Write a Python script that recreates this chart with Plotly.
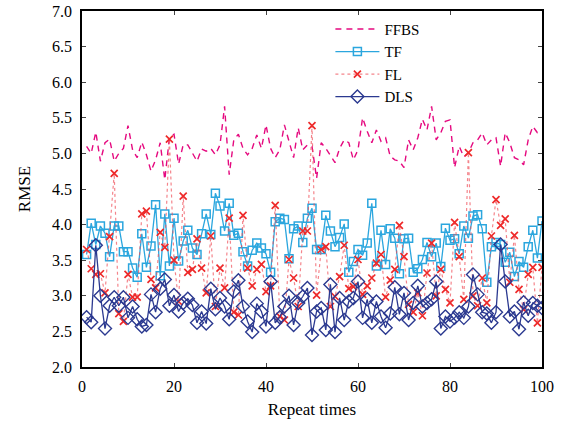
import plotly.graph_objects as go

x = list(range(1, 101))

ffbs = [5.10, 5.00, 5.30, 4.89, 5.15, 5.20, 4.89, 5.00, 5.07, 5.39,
        5.05, 4.94, 5.16, 4.98, 4.75, 4.91, 5.15, 4.63, 5.22, 5.27,
        4.85, 5.12, 5.12, 5.00, 4.89, 5.06, 5.03, 5.07, 4.98, 5.12,
        5.66, 4.70, 5.19, 5.27, 5.07, 4.98, 5.07, 5.26, 5.07, 5.40,
        5.07, 4.94, 5.05, 5.40, 5.15, 4.94, 5.36, 5.05, 5.12, 5.10,
        4.65, 5.15, 5.07, 4.96, 4.87, 5.07, 5.19, 5.15, 4.91, 5.05,
        5.50, 5.31, 5.15, 5.33, 5.17, 5.22, 4.96, 4.91, 4.89, 4.80,
        5.19, 5.05, 5.22, 5.48, 5.33, 5.66, 5.19, 5.29, 5.45, 5.47,
        4.80, 5.10, 4.95, 5.01, 5.15, 5.19, 5.29, 5.12, 5.19, 5.22,
        4.82, 5.29, 5.15, 4.94, 4.91, 4.84, 5.19, 5.38, 5.29, 5.29]

tf = [3.58, 4.02, 3.72, 3.98, 3.88, 3.55, 3.98, 3.98, 3.62, 3.62,
      3.39, 3.26, 3.87, 3.40, 3.70, 4.28, 3.28, 4.15, 3.42, 4.09,
      3.49, 3.77, 3.92, 3.67, 3.58, 3.87, 4.15, 3.86, 4.44, 4.26,
      3.91, 4.30, 3.85, 3.88, 3.62, 3.42, 3.64, 3.74, 3.67, 3.59,
      3.33, 4.04, 4.09, 4.07, 3.52, 3.94, 3.98, 3.75, 4.09, 4.23,
      3.65, 3.65, 4.13, 3.91, 3.69, 3.82, 4.01, 3.33, 3.48, 3.65,
      3.57, 3.74, 4.30, 3.42, 3.92, 3.44, 3.94, 3.81, 3.31, 3.80,
      3.81, 3.33, 3.38, 3.51, 3.75, 3.55, 3.74, 3.41, 3.95, 3.78,
      3.80, 3.59, 3.98, 3.81, 4.12, 4.14, 3.94, 3.19, 3.69, 3.75,
      3.72, 3.47, 3.61, 3.27, 3.48, 3.40, 3.69, 3.92, 3.53, 4.05]

fl = [3.65, 3.38, 3.30, 3.31, 3.04, 3.83, 4.72, 2.75, 2.64, 3.30,
      2.98, 2.98, 4.15, 4.19, 3.23, 3.11, 3.89, 3.68, 5.20, 3.50,
      2.92, 4.40, 3.33, 3.37, 3.80, 3.39, 3.04, 3.84, 2.85, 3.39,
      3.11, 4.09, 2.77, 2.73, 4.13, 3.39, 3.14, 3.37, 3.44, 3.06,
      3.14, 4.27, 2.71, 2.66, 3.51, 3.25, 2.85, 3.91, 3.91, 5.39,
      3.01, 3.65, 3.69, 2.85, 2.99, 3.27, 3.71, 3.10, 3.13, 3.51,
      3.02, 3.14, 3.25, 3.46, 3.58, 2.98, 3.22, 3.37, 3.99, 3.55,
      2.88, 2.77, 3.04, 2.72, 3.32, 3.74, 3.00, 3.37, 3.09, 2.90,
      4.03, 3.55, 2.95, 5.01, 3.00, 2.86, 3.25, 2.90, 3.84, 4.35,
      3.99, 4.08, 3.19, 3.85, 3.09, 2.81, 3.30, 3.40, 2.62, 3.40]

dls = [2.70, 2.63, 3.71, 3.00, 2.54, 2.86, 2.98, 2.86, 2.98, 2.69,
       2.85, 2.67, 2.57, 2.59, 3.02, 2.77, 3.10, 3.23, 2.86, 3.01,
       2.78, 2.90, 2.96, 2.87, 2.62, 2.78, 2.61, 3.10, 2.81, 2.97,
       2.85, 2.67, 3.06, 3.22, 2.85, 2.64, 2.49, 2.89, 2.78, 2.57,
       3.20, 2.62, 2.70, 2.85, 3.00, 2.59, 2.90, 2.99, 3.11, 2.45,
       2.78, 2.83, 2.52, 3.16, 2.49, 2.97, 2.66, 2.92, 2.97, 3.20,
       2.69, 2.95, 2.62, 2.92, 2.71, 2.55, 2.75, 3.12, 2.74, 3.04,
       2.66, 2.90, 3.14, 2.85, 2.90, 2.95, 3.20, 2.54, 2.71, 2.64,
       2.69, 2.77, 2.69, 2.85, 3.30, 3.02, 2.77, 2.75, 2.62, 2.77,
       3.72, 3.20, 2.71, 2.78, 2.53, 2.91, 2.72, 2.90, 2.86, 2.83]

x_ticks = [0, 20, 40, 60, 80, 100]
y_ticks = [2.0, 2.5, 3.0, 3.5, 4.0, 4.5, 5.0, 5.5, 6.0, 6.5, 7.0]

FONT = "Liberation Serif, Times New Roman, serif"

fig = go.Figure()
fig.add_trace(go.Scatter(x=x, y=ffbs, name="FFBS", mode="lines",
                         line=dict(color="#e5097f", width=1.4, dash="6px,5px")))
fig.add_trace(go.Scatter(x=x, y=tf, name="TF", mode="lines+markers",
                         line=dict(color="#2ba6de", width=1.3),
                         marker=dict(symbol="square-open", size=8, color="#2ba6de",
                                     line=dict(width=1.5, color="#2ba6de"))))
fig.add_trace(go.Scatter(x=x, y=fl, name="FL", mode="lines+markers",
                         line=dict(color="rgba(240,80,90,0.7)", width=1.2, dash="dot"),
                         marker=dict(symbol="x-thin-open", size=7, color="#ee2a2a",
                                     line=dict(width=1.7, color="#ee2a2a"))))
fig.add_trace(go.Scatter(x=x, y=dls, name="DLS", mode="lines+markers",
                         line=dict(color="#2b3990", width=1.3),
                         marker=dict(symbol="diamond-open", size=10, color="#2b3990",
                                     line=dict(width=1.4, color="#2b3990"))))

fig.update_layout(
    width=572, height=423,
    margin=dict(l=82, r=30, t=11, b=56),
    paper_bgcolor="white", plot_bgcolor="white",
    font=dict(family=FONT, size=16, color="black"),
    showlegend=True,
    legend=dict(x=0.54, y=0.995, xanchor="left", yanchor="top",
                bgcolor="rgba(0,0,0,0)", font=dict(family=FONT, size=15),
                tracegroupgap=0, itemwidth=44),
    xaxis=dict(range=[0, 100], tickvals=x_ticks, ticks="inside", ticklen=4,
               showgrid=False, zeroline=False, showline=True, linecolor="black",
               linewidth=1.5, mirror="ticks", automargin=False,
               ticklabelstandoff=4,
               title=dict(text="Repeat times", standoff=9, font=dict(size=17))),
    yaxis=dict(range=[2, 7], tickvals=y_ticks, tickformat=".1f", ticks="inside",
               ticklen=4, showgrid=False, zeroline=False, showline=True,
               linecolor="black", linewidth=1.5, mirror="ticks", automargin=False,
               ticklabelstandoff=5,
               title=dict(text="RMSE", standoff=17, font=dict(size=17))),
)

fig.write_html("out.html", config={"displayModeBar": False},
               post_script="document.body.style.margin='0';document.body.style.padding='0';")
